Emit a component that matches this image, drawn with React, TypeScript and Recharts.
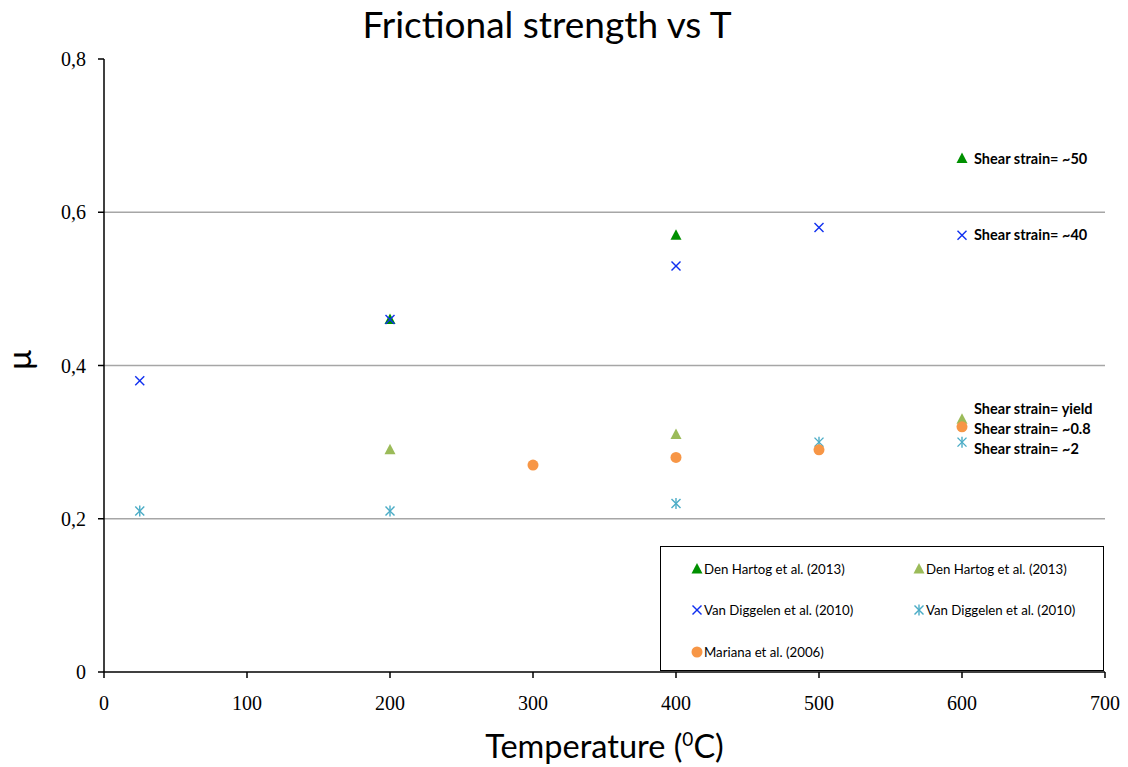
import React from 'react';
import { ScatterChart, Scatter, XAxis, YAxis, ReferenceLine } from 'recharts';

// tick labels / axis
const xTicks = [0, 100, 200, 300, 400, 500, 600, 700];
const yTicks = [0, 0.2, 0.4, 0.6, 0.8];
const gridValues = [0.2, 0.4, 0.6];

// Den Hartog et al. (2013), shear strain ~50
const dhHighT = [200, 400, 600];
const dhHighMu = [0.46, 0.57, 0.67];
// Den Hartog et al. (2013), yield
const dhYieldT = [200, 400, 600];
const dhYieldMu = [0.29, 0.31, 0.33];
// Van Diggelen et al. (2010), ~40
const vdHighT = [25, 200, 400, 500, 600];
const vdHighMu = [0.38, 0.46, 0.53, 0.58, 0.57];
// Van Diggelen et al. (2010), ~2
const vdLowT = [25, 200, 400, 500, 600];
const vdLowMu = [0.21, 0.21, 0.22, 0.3, 0.3];
// Mariana et al. (2006), ~0.8
const marianaT = [300, 400, 500, 600];
const marianaMu = [0.27, 0.28, 0.29, 0.32];

// annotations next to the 600 C points
const noteLabels = ['Shear strain= ~50', 'Shear strain= ~40', 'Shear strain= yield', 'Shear strain= ~0.8', 'Shear strain= ~2'];
const noteT = [600, 600, 600, 600, 600];
const noteMu = [0.67, 0.57, 0.343, 0.317, 0.291];

const zip = (xs: number[], ys: number[]) => xs.map((x, i) => ({ x, y: ys[i] }));

const COLORS = {
    dark: '#009000',
    olive: '#9BBB59',
    blue: '#1030F0',
    cyan: '#4BACC6',
    orange: '#F79646',
};

const Triangle = ({ cx, cy, fill }: any) => (
    <polygon points={`${cx},${cy - 6} ${cx - 5.5},${cy + 4.5} ${cx + 5.5},${cy + 4.5}`} fill={fill} />
);
const Cross = ({ cx, cy, fill }: any) => (
    <g stroke={fill} strokeWidth={1.4}>
        <line x1={cx - 4.5} y1={cy - 4.5} x2={cx + 4.5} y2={cy + 4.5} />
        <line x1={cx - 4.5} y1={cy + 4.5} x2={cx + 4.5} y2={cy - 4.5} />
    </g>
);
const Star = ({ cx, cy, fill }: any) => (
    <g stroke={fill} strokeWidth={1.4}>
        <line x1={cx - 4.5} y1={cy - 4.5} x2={cx + 4.5} y2={cy + 4.5} />
        <line x1={cx - 4.5} y1={cy + 4.5} x2={cx + 4.5} y2={cy - 4.5} />
        <line x1={cx} y1={cy - 5.5} x2={cx} y2={cy + 5.5} />
    </g>
);
const Dot = ({ cx, cy, fill }: any) => <circle cx={cx} cy={cy} r={5.5} fill={fill} />;

const legendItems = [
    { name: 'Den Hartog et al. (2013)', color: COLORS.dark, Shape: Triangle },
    { name: 'Den Hartog et al. (2013)', color: COLORS.olive, Shape: Triangle },
    { name: 'Van Diggelen et al. (2010)', color: COLORS.blue, Shape: Cross },
    { name: 'Van Diggelen et al. (2010)', color: COLORS.cyan, Shape: Star },
    { name: 'Mariana et al. (2006)', color: COLORS.orange, Shape: Dot },
];

const NoteText = ({ cx, cy, index }: any) => (
    <text x={cx + 12} y={cy} dy="0.35em" fontSize={14.5} fontWeight="bold" fontFamily="Lato, sans-serif" fill="#000">
        {noteLabels[index]}
    </text>
);

const sans = 'Lato, "Open Sans", sans-serif';
const serif = '"Liberation Serif", serif';

const App: React.FC = () => {
    return (
        <div style={{ position: 'relative', width: 1128, height: 767, background: '#fff', fontFamily: sans }}>
            <style>{'body{margin:0}'}</style>
            <div style={{ position: 'absolute', left: 0, width: 1094, top: 1, textAlign: 'center', fontSize: 37 }}>
                Frictional strength vs T
            </div>
            <div style={{ position: 'absolute', left: 104, width: 1001, top: 726, textAlign: 'center', fontSize: 32.5 }}>
                Temperature (<sup style={{ fontSize: 19 }}>0</sup>C)
            </div>
            <div style={{ position: 'absolute', left: 8, top: 340, fontSize: 33, transform: 'rotate(-90deg)', transformOrigin: 'center' }}>
                μ
            </div>
            <ScatterChart width={1128} height={767} margin={{ top: 59, right: 23, bottom: 0, left: 44 }}>
                <XAxis
                    type="number"
                    dataKey="x"
                    domain={[0, 700]}
                    ticks={xTicks}
                    height={95}
                    tickSize={6}
                    tickMargin={18}
                    axisLine={{ stroke: '#000', strokeWidth: 1.5 }}
                    tickLine={{ stroke: '#000', strokeWidth: 1.5 }}
                    tick={{ fontSize: 20, fill: '#000', fontFamily: serif }}
                />
                <YAxis
                    type="number"
                    dataKey="y"
                    domain={[0, 0.8]}
                    ticks={yTicks}
                    width={60}
                    tickSize={6}
                    tickMargin={12}
                    tickFormatter={(v: number) => (v === 0 ? '0' : v.toFixed(1).replace('.', ','))}
                    axisLine={{ stroke: '#000', strokeWidth: 1.5 }}
                    tickLine={{ stroke: '#000', strokeWidth: 1.5 }}
                    tick={{ fontSize: 20, fill: '#000', fontFamily: serif }}
                />
                {gridValues.map(v => (
                    <ReferenceLine key={v} y={v} stroke="#A6A6A6" strokeWidth={1.5} />
                ))}
                <Scatter data={zip(dhHighT, dhHighMu)} fill={COLORS.dark} shape={<Triangle />} isAnimationActive={false} />
                <Scatter data={zip(dhYieldT, dhYieldMu)} fill={COLORS.olive} shape={<Triangle />} isAnimationActive={false} />
                <Scatter data={zip(vdHighT, vdHighMu)} fill={COLORS.blue} shape={<Cross />} isAnimationActive={false} />
                <Scatter data={zip(vdLowT, vdLowMu)} fill={COLORS.cyan} shape={<Star />} isAnimationActive={false} />
                <Scatter data={zip(marianaT, marianaMu)} fill={COLORS.orange} shape={<Dot />} isAnimationActive={false} />
                <Scatter data={zip(noteT, noteMu)} fill="#000" shape={<NoteText />} isAnimationActive={false} />
            </ScatterChart>
            <div
                style={{
                    position: 'absolute', left: 660, top: 546, width: 444, height: 125,
                    border: '1.5px solid #000', background: '#fff', boxSizing: 'border-box',
                    display: 'grid', gridTemplateColumns: '222px 222px', gridAutoRows: '41.5px',
                    paddingTop: 1, fontSize: 13.25,
                }}
            >
                {legendItems.map((it, i) => (
                    <div key={i} style={{ display: 'flex', alignItems: 'center', paddingLeft: 30 }}>
                        <svg width={12} height={12} style={{ marginRight: 1 }}>
                            <it.Shape cx={6} cy={6} fill={it.color} />
                        </svg>
                        <span>{it.name}</span>
                    </div>
                ))}
            </div>
        </div>
    );
};

export default App;
